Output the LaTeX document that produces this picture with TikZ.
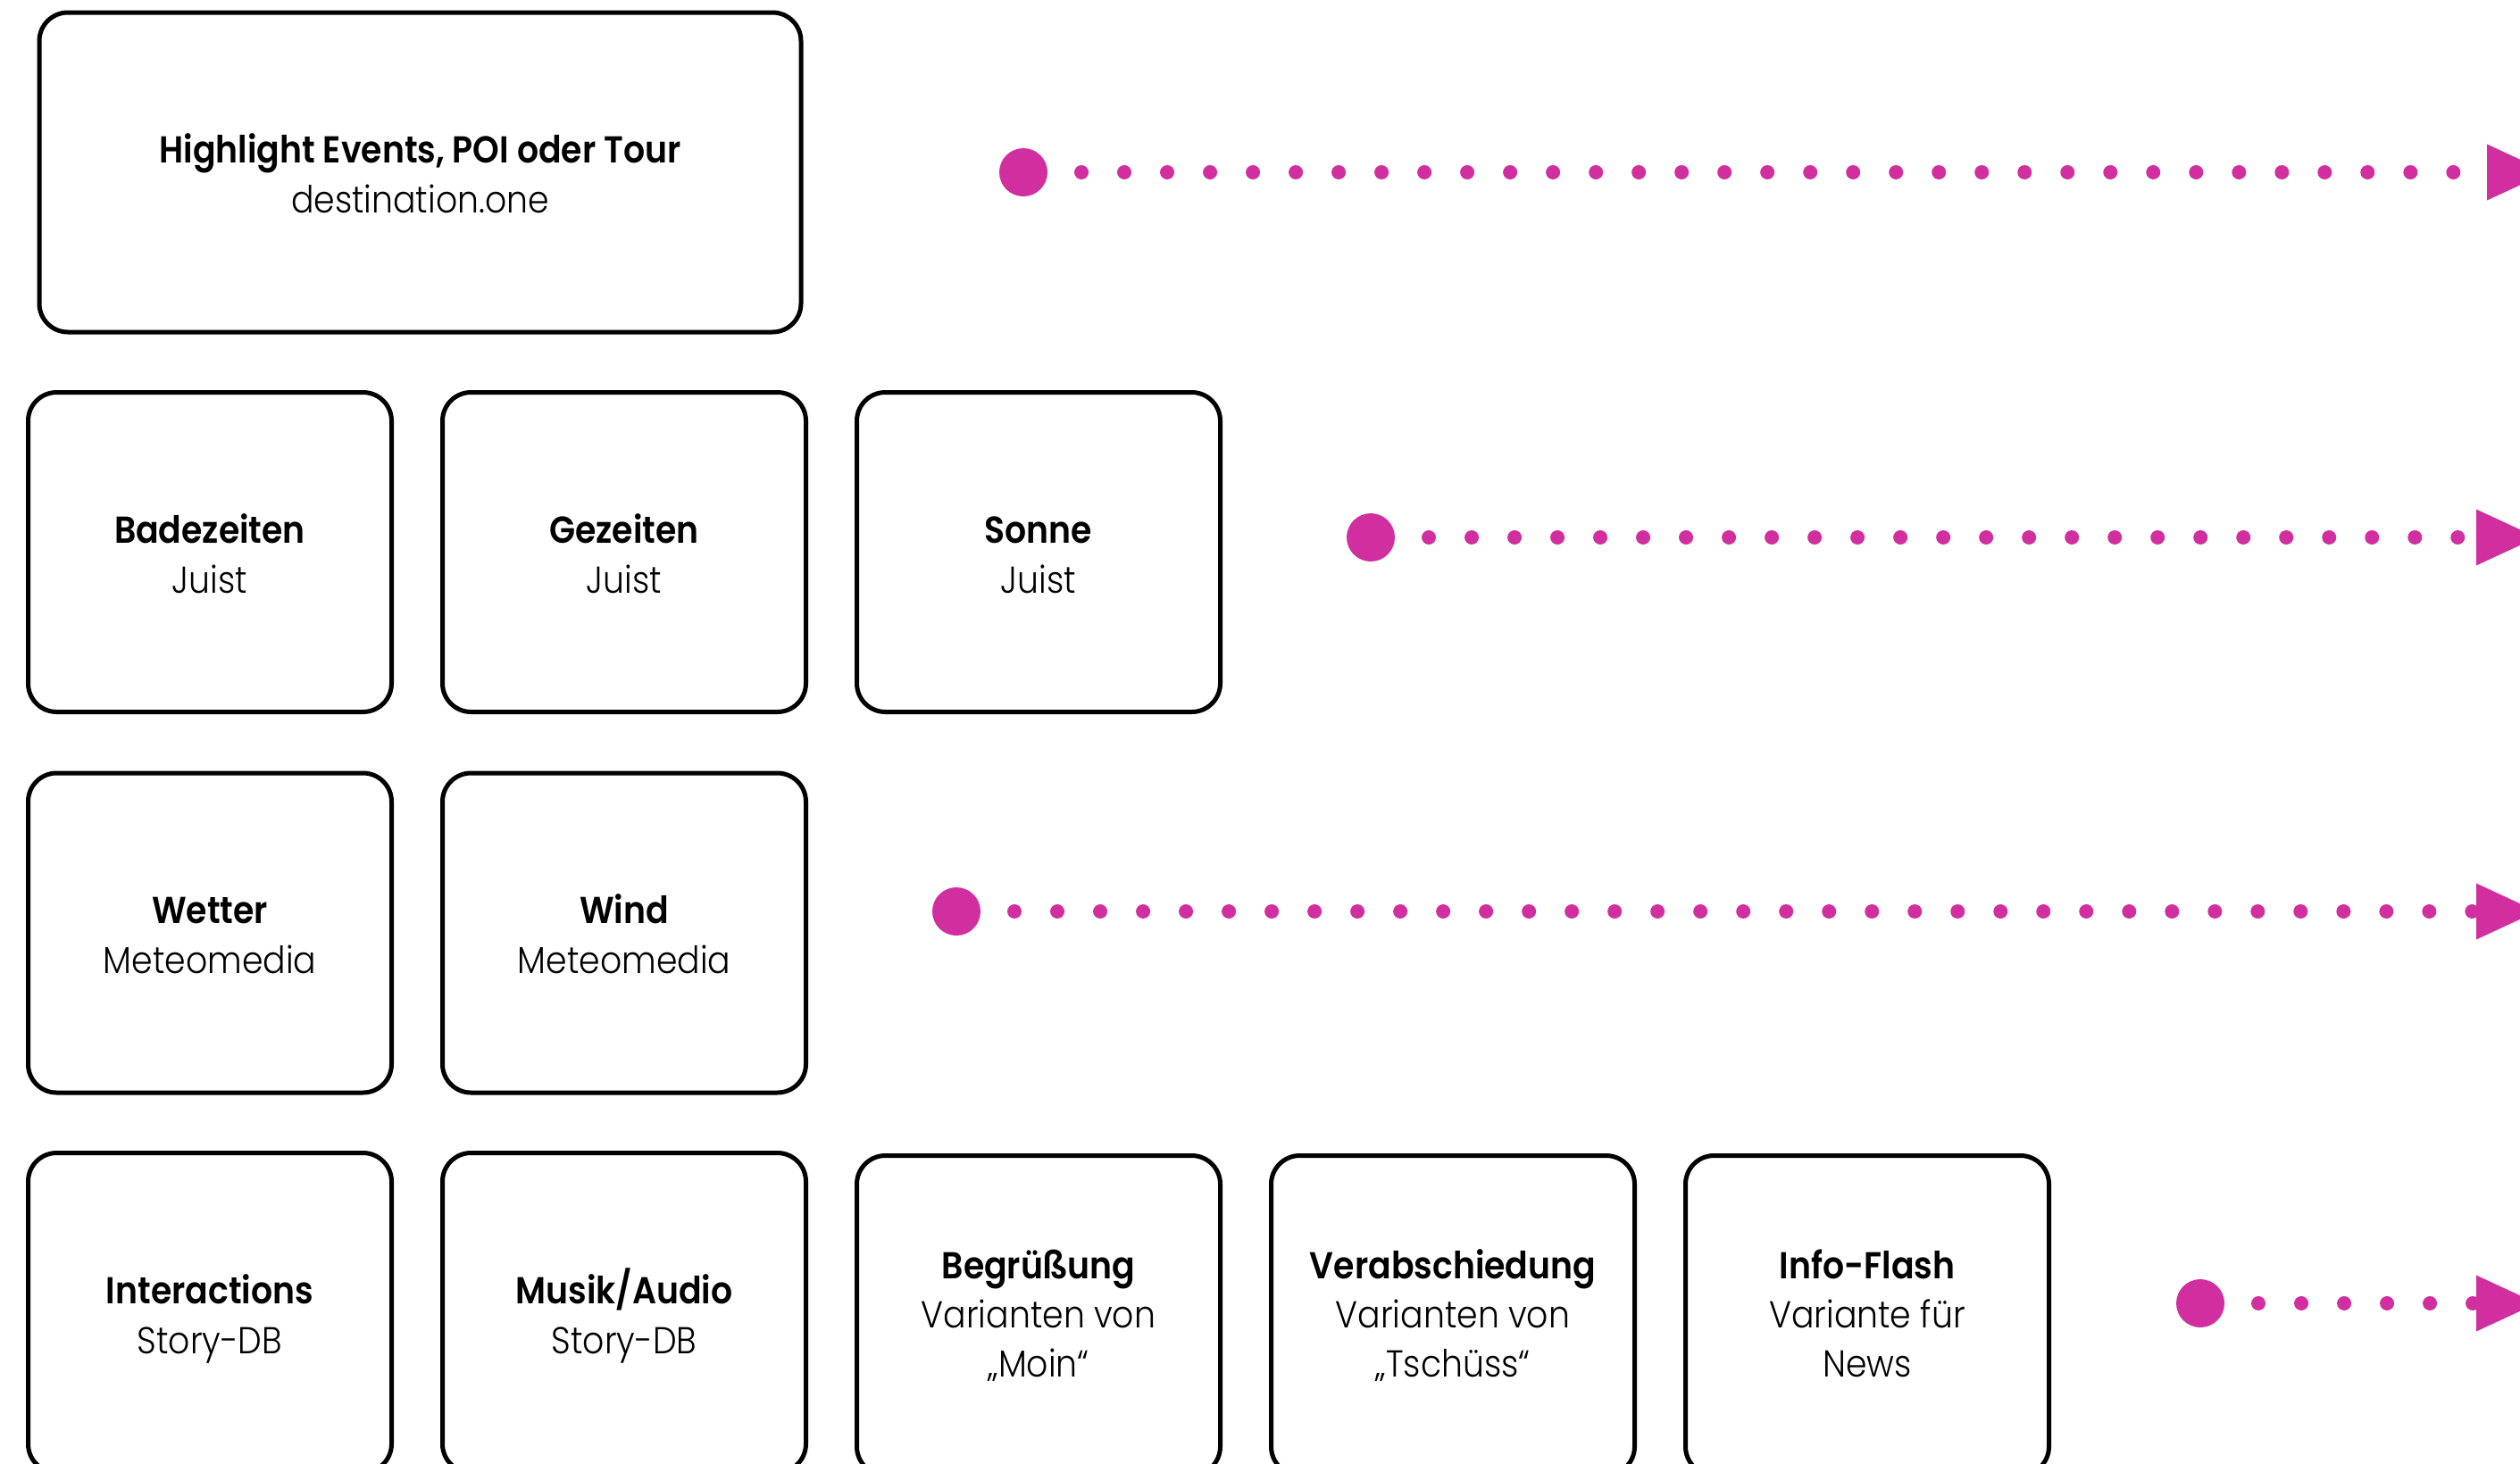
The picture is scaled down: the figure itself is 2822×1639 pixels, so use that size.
\documentclass[tikz,border=0pt]{standalone}
\usepackage{fontspec}
\setmainfont{Poppins}[FakeStretch=0.9, UprightFont=* Light, BoldFont=* SemiBold]
\definecolor{mag}{RGB}{209,47,159}
\newcommand{\topstrut}{\rule{0pt}{50pt}}
\newcommand{\topstrutb}{\rule{0pt}{43pt}}
\newcommand{\botstrut}{\rule[-15pt]{0pt}{15pt}}
\begin{document}
\begin{tikzpicture}[x=1pt,y=-1pt,
  card/.style={draw=black, line width=5pt, rounded corners=32pt, minimum width=407pt, minimum height=358pt, inner sep=0pt, align=center, font=\fontsize{42}{56}\selectfont, text=black},
  card3/.style={card, font=\fontsize{42}{55}\selectfont},
  bigdot/.style={circle, fill=mag, minimum size=54pt, inner sep=0pt, outer sep=0pt},
  dotline/.style={draw=mag, line width=16pt, line cap=round, dash pattern=on 0.01pt off 48pt, dash phase=10pt},
  tipfill/.style={fill=mag}]
\useasboundingbox (0,0) rectangle (2822,1639);
% cards
\node[card, minimum width=853pt] (hl) at (470.5,193) {\topstrut\textbf{Highlight Events, POI oder Tour}\\destination.one\botstrut};
\node[card] (bade) at (235,618.5) {\topstrut\textbf{Badezeiten}\\Juist\botstrut};
\node[card] (gez) at (699,618.5) {\topstrut\textbf{Gezeiten}\\Juist\botstrut};
\node[card] (son) at (1163,618.5) {\topstrut\textbf{Sonne}\\Juist\botstrut};
\node[card] (wet) at (235,1045) {\topstrut\textbf{Wetter}\\Meteomedia\botstrut};
\node[card] (wind) at (699,1045) {\topstrut\textbf{Wind}\\Meteomedia\botstrut};
\node[card] (inter) at (235,1470.5) {\topstrut\textbf{Interactions}\\Story-DB\botstrut};
\node[card] (musik) at (699,1470.5) {\topstrut\textbf{Musik/Audio}\\Story-DB\botstrut};
\node[card3] (begr) at (1163,1473.5) {\topstrutb\textbf{Begrüßung}\\Varianten von\\„Moin“\botstrut};
\node[card3] (verab) at (1627,1473.5) {\topstrutb\textbf{Verabschiedung}\\Varianten von\\„Tschüss“\botstrut};
\node[card3] (info) at (2091,1473.5) {\topstrutb\textbf{Info-Flash}\\Variante für\\News\botstrut};
% dotted arrows
\node[bigdot] (b1) at (1146,193) {};
\node[bigdot] (b2) at (1535,602) {};
\node[bigdot] (b3) at (1071,1021) {};
\node[bigdot] (b4) at (2464,1460) {};
\coordinate (e1) at (2785,193);
\coordinate (e2) at (2773,602);
\coordinate (e3) at (2773,1021);
\coordinate (e4) at (2773,1460);
\foreach \i in {1,2,3,4}{
  \draw[dotline] (b\i) -- (e\i);
  \fill[tipfill] (e\i) ++(0,-31.5) -- ++(68,31.5) -- ++(-68,31.5) -- cycle;
}
\end{tikzpicture}
\end{document}
